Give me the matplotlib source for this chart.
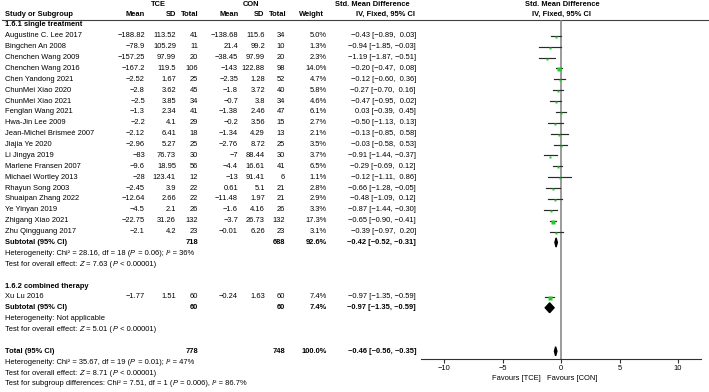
import numpy as np
import matplotlib
matplotlib.use("Agg")
import matplotlib.pyplot as plt
from matplotlib.patches import Polygon

plt.rcParams['font.family'] = ['Liberation Sans', 'DejaVu Sans']

# ---- data ----
studies1 = ["Augustine C. Lee 2017", "Bingchen An 2008", "Chenchen Wang 2009",
            "Chenchen Wang 2016", "Chen Yandong 2021", "ChunMei Xiao 2020",
            "ChunMei Xiao 2021", "Fenglan Wang 2021", "Hwa-Jin Lee 2009",
            "Jean-Michel Brismeé 2007", "Jiajia Ye 2020", "Li Jingya 2019",
            "Marlene Fransen 2007", "Michael Wortley 2013", "Rhayun Song 2003",
            "Shuaipan Zhang 2022", "Ye Yinyan 2019", "Zhigang Xiao 2021",
            "Zhu Qingguang 2017"]
tce_mean1 = [-188.82, -78.9, -157.25, -167.2, -2.52, -2.8, -2.5, -1.3, -2.2, -2.12,
             -2.96, -83, -9.6, -28, -2.45, -12.64, -4.5, -22.75, -2.1]
tce_sd1 = [113.52, 105.29, 97.99, 119.5, 1.67, 3.62, 3.85, 2.34, 4.1, 6.41,
           5.27, 76.73, 18.95, 123.41, 3.9, 2.66, 2.1, 31.26, 4.2]
tce_n1 = [41, 11, 20, 106, 25, 45, 34, 41, 29, 18, 25, 30, 56, 12, 22, 22, 26, 132, 23]
con_mean1 = [-138.68, 21.4, -38.45, -143, -2.35, -1.8, -0.7, -1.38, -0.2, -1.34,
             -2.76, -7, -4.4, -13, 0.61, -11.48, -1.6, -3.7, -0.01]
con_sd1 = [115.6, 99.2, 97.99, 122.88, 1.28, 3.72, 3.8, 2.46, 3.56, 4.29,
           8.72, 88.44, 16.61, 91.41, 5.1, 1.97, 4.16, 26.73, 6.26]
con_n1 = [34, 10, 20, 98, 52, 40, 34, 47, 15, 13, 25, 30, 41, 6, 21, 21, 26, 132, 23]
weight1 = [5.0, 1.3, 2.3, 14.0, 4.7, 5.8, 4.6, 6.1, 2.7, 2.1, 3.5, 3.7, 6.5, 1.1,
           2.8, 2.9, 3.3, 17.3, 3.1]
smd1 = [-0.43, -0.94, -1.19, -0.20, -0.12, -0.27, -0.47, 0.03, -0.50, -0.13,
        -0.03, -0.91, -0.29, -0.12, -0.66, -0.48, -0.87, -0.65, -0.39]
lo1 = [-0.89, -1.85, -1.87, -0.47, -0.60, -0.70, -0.95, -0.39, -1.13, -0.85,
       -0.58, -1.44, -0.69, -1.11, -1.28, -1.09, -1.44, -0.90, -0.97]
hi1 = [0.03, -0.03, -0.51, 0.08, 0.36, 0.16, 0.02, 0.45, 0.13, 0.58,
       0.53, -0.37, 0.12, 0.86, -0.05, 0.12, -0.30, -0.41, 0.20]
sub1 = (718, 688, 92.6, -0.42, -0.52, -0.31)

studies2 = ["Xu Lu 2016"]
tce_mean2 = [-1.77]
tce_sd2 = [1.51]
tce_n2 = [60]
con_mean2 = [-0.24]
con_sd2 = [1.63]
con_n2 = [60]
weight2 = [7.4]
smd2 = [-0.97]
lo2 = [-1.35]
hi2 = [-0.59]
sub2 = (60, 60, 7.4, -0.97, -1.35, -0.59)

total = (778, 748, 100.0, -0.46, -0.56, -0.35)

# pieces: (text, italic)
het1 = [("Heterogeneity: Chi² = 28.16, df = 18 (", 0), ("P", 1), (" = 0.06); ", 0),
        ("I", 1), ("² = 36%", 0)]
eff1 = [("Test for overall effect: ", 0), ("Z", 1), (" = 7.63 (", 0), ("P", 1),
        (" < 0.00001)", 0)]
het2 = [("Heterogeneity: Not applicable", 0)]
eff2 = [("Test for overall effect: ", 0), ("Z", 1), (" = 5.01 (", 0), ("P", 1),
        (" < 0.00001)", 0)]
het_t = [("Heterogeneity: Chi² = 35.67, df = 19 (", 0), ("P", 1), (" = 0.01); ", 0),
         ("I", 1), ("² = 47%", 0)]
eff_t = [("Test for overall effect: ", 0), ("Z", 1), (" = 8.71 (", 0), ("P", 1),
         (" < 0.00001)", 0)]
sub_t = [("Test for subgroup differences: Chi² = 7.51, df = 1 (", 0), ("P", 1),
         (" = 0.006), ", 0), ("I", 1), ("² = 86.7%", 0)]

xticks = [-10, -5, 0, 5, 10]


def num(v):
    return f"{v:g}".replace("-", "\u2212")


def ci(e, l, h):
    return f"{e:.2f} [{l:.2f}, {h:5.2f}]".replace("-", "\u2212")


W, H = 709, 392
fig = plt.figure(figsize=(W / 100, H / 100), dpi=100)
ax = fig.add_axes([0, 0, 1, 1])
ax.set_xlim(0, W)
ax.set_ylim(H, 0)
ax.axis("off")
renderer = fig.canvas.get_renderer()

FS = 5.4
def row_y(r):
    return 14 + 10.88 * r

def t(x, r, s, ha="left", bold=False, y=None):
    yy = row_y(r) if y is None else y
    return ax.text(x, yy, s, ha=ha, va="center", fontsize=FS,
                   fontweight="bold" if bold else "normal")

def rich(x, r, parts):
    # draw pieces one after another, italic where asked
    for s, it in parts:
        txt = t(x, r, s)
        if it:
            txt.set_fontstyle("italic")
        bb = txt.get_window_extent(renderer=renderer)
        x += bb.width + (0.4 if it else 0)

# column right edges
cx = dict(tm=145, tsd=176, tn=198, cm=238, csd=265, cn=285, w=327, ci=416)

# headers
t(158, 0, "TCE", ha="center", bold=True, y=4)
t(251, 0, "CON", ha="center", bold=True, y=4)
t(372, 0, "Std. Mean Difference", ha="center", bold=True, y=4)
t(562, 0, "Std. Mean Difference", ha="center", bold=True, y=4)
t(5, 0, "Study or Subgroup", bold=True)
t(145, 0, "Mean", ha="right", bold=True)
t(176, 0, "SD", ha="right", bold=True)
t(199, 0, "Total", ha="right", bold=True)
t(239, 0, "Mean", ha="right", bold=True)
t(264, 0, "SD", ha="right", bold=True)
t(287, 0, "Total", ha="right", bold=True)
t(324, 0, "Weight", ha="right", bold=True)
t(415, 0, "IV, Fixed, 95% CI", ha="right", bold=True)
t(562, 0, "IV, Fixed, 95% CI", ha="center", bold=True)
ax.plot([2, W], [19.5, 19.5], color="#404040", lw=0.8)


def study_rows(r0, names, tm, tsd, tn, cm, csd, cn, w, e, l, h):
    for i in range(len(names)):
        r = r0 + i
        t(5, r, names[i])
        t(cx["tm"], r, num(tm[i]), ha="right")
        t(cx["tsd"], r, num(tsd[i]), ha="right")
        t(cx["tn"], r, str(tn[i]), ha="right")
        t(cx["cm"], r, num(cm[i]), ha="right")
        t(cx["csd"], r, num(csd[i]), ha="right")
        t(cx["cn"], r, str(cn[i]), ha="right")
        t(cx["w"], r, f"{w[i]:.1f}%", ha="right")
        t(cx["ci"], r, ci(e[i], l[i], h[i]), ha="right")


def summary_row(r, label, s):
    t(5, r, label, bold=True)
    t(cx["tn"], r, str(s[0]), ha="right", bold=True)
    t(cx["cn"], r, str(s[1]), ha="right", bold=True)
    t(cx["w"], r, f"{s[2]:.1f}%", ha="right", bold=True)
    t(cx["ci"], r, ci(s[3], s[4], s[5]), ha="right", bold=True)


t(5, 1, "1.6.1 single treatment", bold=True)
study_rows(2, studies1, tce_mean1, tce_sd1, tce_n1, con_mean1, con_sd1, con_n1,
           weight1, smd1, lo1, hi1)
r_sub1 = 2 + len(studies1)
summary_row(r_sub1, "Subtotal (95% CI)", sub1)
rich(5, r_sub1 + 1, het1)
rich(5, r_sub1 + 2, eff1)

r_sec2 = r_sub1 + 4
t(5, r_sec2, "1.6.2 combined therapy", bold=True)
study_rows(r_sec2 + 1, studies2, tce_mean2, tce_sd2, tce_n2, con_mean2, con_sd2,
           con_n2, weight2, smd2, lo2, hi2)
r_sub2 = r_sec2 + 1 + len(studies2)
summary_row(r_sub2, "Subtotal (95% CI)", sub2)
rich(5, r_sub2 + 1, het2)
rich(5, r_sub2 + 2, eff2)

r_tot = r_sub2 + 4
summary_row(r_tot, "Total (95% CI)", total)
rich(5, r_tot + 1, het_t)
rich(5, r_tot + 2, eff_t)
rich(5, r_tot + 3, sub_t)

# ---- forest panel ----
top_px, bot_px = 19.5, 359
left_px, right_px = 420.6, 701.4
fa = fig.add_axes([left_px / W, (H - bot_px) / H, (right_px - left_px) / W,
                   (bot_px - top_px) / H])
fa.set_xlim(-12, 12)
fa.set_ylim((bot_px - 14) / 10.88, (top_px - 14) / 10.88)
fa.patch.set_alpha(0)
for s in ["top", "left", "right"]:
    fa.spines[s].set_visible(False)
fa.spines["bottom"].set_linewidth(0.8)
fa.spines["bottom"].set_color("#303030")
fa.set_yticks([])
fa.set_xticks(xticks)
fa.tick_params(axis="x", length=3, width=0.8, labelsize=FS, pad=1.5, color="#303030")
fa.axvline(0, color="#808080", lw=1.1, zorder=1)


def forest(r0, e, l, h, w):
    for i in range(len(e)):
        r = r0 + i
        fa.plot([l[i], h[i]], [r, r], color="#2a2a2a", lw=0.85, zorder=2)
        side = 1.2 + 0.7 * np.sqrt(w[i])
        fa.plot(e[i], r + 0.1, marker="s", ms=side * 0.72, color="#22cc22",
                mec="none", zorder=3)


def diamond(r, s, hh=0.42):
    e, l, h = s[3], s[4], s[5]
    fa.add_patch(Polygon([(l, r), (e, r - hh), (h, r), (e, r + hh)],
                         closed=True, color="black", zorder=3))


forest(2, smd1, lo1, hi1, weight1)
diamond(r_sub1, sub1)
forest(r_sec2 + 1, smd2, lo2, hi2, weight2)
diamond(r_sub2, sub2, 0.45)
diamond(r_tot, total)

t(541, 0, "Favours [TCE]", ha="right", y=379)
t(547, 0, "Favours [CON]", ha="left", y=379)

fig.savefig("out.png", dpi=100)
